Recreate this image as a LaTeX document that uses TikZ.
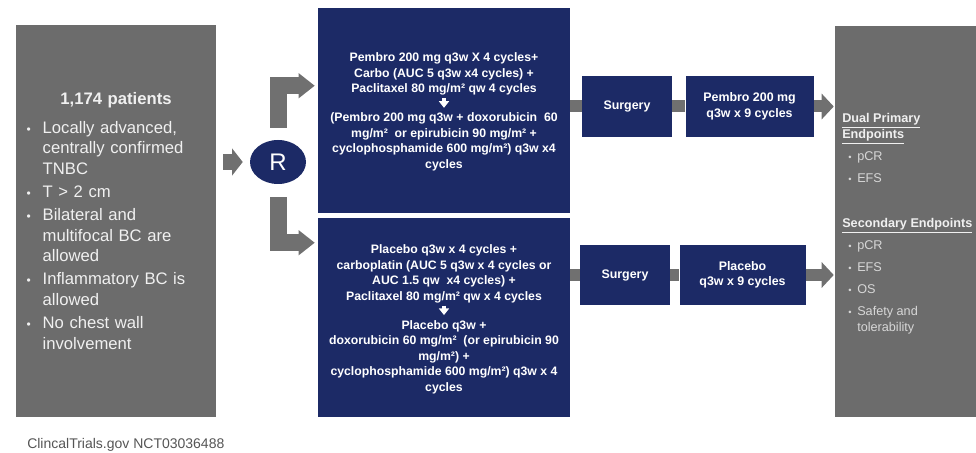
\documentclass[tikz,border=0pt]{standalone}
\usepackage{fontspec}
\setmainfont{Liberation Sans}
\usetikzlibrary{positioning, shapes.geometric, arrows.meta, calc}

\definecolor{trialnavy}{RGB}{28,42,102}
\definecolor{trialgray}{RGB}{108,108,108}
\definecolor{arrowgray}{RGB}{112,112,112}
\definecolor{notegray}{RGB}{85,85,85}
\definecolor{itemgray}{RGB}{215,215,215}

\newcommand{\bitem}[1]{\par\vspace{2pt}\hangindent=12pt\hangafter=1\noindent\makebox[12pt][l]{\small\textbullet}#1\par}
\newcommand{\eitem}{\hspace*{4.5pt}\makebox[6.75pt][l]{\scriptsize\textbullet}}

\tikzset{
	graybox/.style={rectangle, fill=trialgray, inner sep=0pt},
	navybox/.style={rectangle, fill=trialnavy, inner sep=0pt, text=white, align=center,
		font=\bfseries\fontsize{9.3}{11.6}\selectfont},
	regimen/.style={inner sep=0pt, text=white, align=center,
		font=\bfseries\fontsize{9.2}{11.6}\selectfont},
	blockarrow/.style={draw=arrowgray, line width=12.75pt, line join=miter,
		-{Triangle[length=12pt, width=18pt]}},
	band/.style={draw=arrowgray, line width=9pt},
	thenarrow/.style={draw=white, line width=3pt, -{Triangle[length=5pt, width=7.5pt]}}
}

\begin{document}
\begin{tikzpicture}[x=0.75pt, y=-0.75pt]
	\useasboundingbox (0,0) rectangle (976,453);

	% patients and randomisation
	\node[graybox, minimum width=150pt, minimum height=294pt, text width=134pt, align=left,
		text=white!94!black, font=\fontsize{12.5}{15.4}\selectfont] (patients) at (116,221) {%
		\vspace*{3pt}{\centering\bfseries 1,174 patients\par}\vspace{1pt}
		\bitem{Locally advanced,\newline centrally confirmed\newline TNBC}
		\bitem{T > 2 cm}
		\bitem{Bilateral and\newline multifocal BC are\newline allowed}
		\bitem{Inflammatory BC is\newline allowed}
		\bitem{No chest wall\newline involvement}};
	\node[ellipse, fill=trialnavy, minimum width=42pt, minimum height=33pt, inner sep=0pt,
		text=white, font=\fontsize{18}{18}\selectfont] (rand) at (278,162) {R};

	% treatment arms
	\node[graybox, fill=trialnavy, minimum width=189pt, minimum height=153.75pt] (armA) at (444,110.5) {};
	\node[graybox, fill=trialnavy, minimum width=189pt, minimum height=149.25pt] (armB) at (444,317.5) {};
	\node[regimen] (armA1) at (444,74) {Pembro 200 mg q3w X 4 cycles+\\
		Carbo (AUC 5 q3w x4 cycles) +\\Paclitaxel 80 mg/m² qw 4 cycles};
	\node[regimen] (armA2) at (444,142) {(Pembro 200 mg q3w + doxorubicin~ 60\\
		mg/m²~ or epirubicin 90 mg/m² +\\cyclophosphamide 600 mg/m²) q3w x4\\cycles};
	\node[regimen] (armB1) at (444,274) {Placebo q3w x 4 cycles +\\
		carboplatin (AUC 5 q3w x 4 cycles or\\AUC 1.5 qw~ x4 cycles) +\\
		Paclitaxel 80 mg/m² qw x 4 cycles};
	\node[regimen] (armB2) at (444,357) {Placebo q3w +\\
		doxorubicin 60 mg/m²~ (or epirubicin 90\\mg/m²) +\\
		cyclophosphamide 600 mg/m²) q3w x 4\\cycles};

	% surgery and maintenance
	\node[navybox, minimum width=67.5pt, minimum height=45.75pt] (surgA) at (627,106.5) {Surgery};
	\node[navybox, minimum width=96pt, minimum height=45.75pt, right=9.75pt of surgA] (maintA)
		{Pembro 200 mg\\q3w x 9 cycles};
	\node[navybox, minimum width=67.5pt, minimum height=45pt] (surgB) at (625,275) {Surgery};
	\node[navybox, minimum width=94.5pt, minimum height=45pt, right=6.75pt of surgB] (maintB)
		{Placebo\\q3w x 9 cycles};

	% endpoints
	\node[graybox, minimum width=105.75pt, minimum height=293.25pt] (endpoints) at (905.5,221.5) {};
	\node[anchor=north west, inner sep=0pt, align=left, text=itemgray,
		font=\fontsize{9.5}{11.5}\selectfont] (endtext) at (842,113.5) {%
		\textcolor{white!94!black}{\bfseries\underline{Dual Primary}}\\
		\textcolor{white!94!black}{\bfseries\underline{Endpoints}}\\[5pt]
		\eitem pCR\\[5pt]
		\eitem EFS\\[22.25pt]
		\textcolor{white!94!black}{\bfseries\underline{Secondary Endpoints}}\\[5pt]
		\eitem pCR\\[5pt]
		\eitem EFS\\[5pt]
		\eitem OS\\[5pt]
		\eitem Safety and\\[0.5pt]
		\hspace*{11.25pt}tolerability};

	\node[anchor=west, inner sep=0pt, text=notegray, font=\fontsize{10.5}{12}\selectfont] (source)
		at (27,445) {ClincalTrials.gov NCT03036488};

	% connectors
	\draw[blockarrow, line width=12pt, -{Triangle[length=8pt, width=20pt]},
		shorten <=5.25pt, shorten >=5.25pt] (patients.east |- rand) -- (rand.west);
	\draw[blockarrow, shorten <=9pt, shorten >=2.25pt] (rand.north) |- ($(armA.north west)+(0,78)$);
	\draw[blockarrow, shorten <=9.75pt, shorten >=2.25pt] (rand.south) |- ($(armB.north west)+(0,25)$);

	\draw[band] (armA.east |- surgA) -- (surgA.west);
	\draw[band] (surgA.east) -- (maintA.west);
	\draw[band, -{Triangle[length=9pt, width=18.75pt]}, shorten >=0.75pt] (maintA.east) -- (endpoints.west |- maintA);
	\draw[band] (armB.east |- surgB) -- (surgB.west);
	\draw[band] (surgB.east) -- (maintB.west);
	\draw[band, -{Triangle[length=9pt, width=18.75pt]}, shorten >=0.75pt] (maintB.east) -- (endpoints.west |- maintB);

	\draw[thenarrow, shorten <=1.9pt, shorten >=3.75pt] (armA1.south) -- (armA2.north);
	\draw[thenarrow, shorten <=1.9pt, shorten >=3.75pt] (armB1.south) -- (armB2.north);
\end{tikzpicture}
\end{document}
